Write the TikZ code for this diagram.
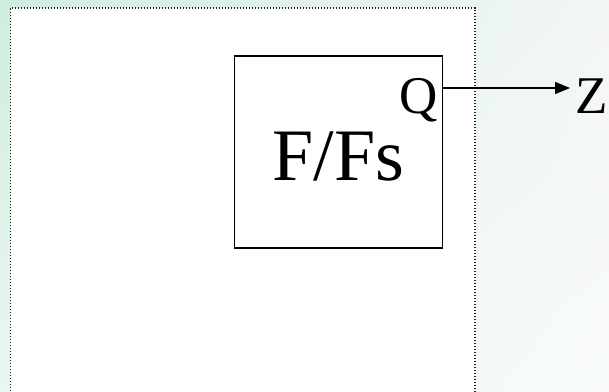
\documentclass[tikz,border=0pt]{standalone}
\usepackage{fontspec}
\setmainfont{Liberation Serif}
\usetikzlibrary{positioning, arrows.meta, shadings}
\definecolor{mintbg}{RGB}{208,237,222}
\definecolor{mintfade}{RGB}{234,246,240}
\definecolor{greybg}{RGB}{243,246,245}
\definecolor{paperbg}{RGB}{248,251,250}
\definecolor{dotgrey}{RGB}{35,35,35}

\begin{document}
\begin{tikzpicture}[x=1pt,y=-1pt,blockbox/.style={draw=black,line width=1.6pt,fill=white,minimum width=208pt,minimum height=192pt,inner sep=0pt},bigtext/.style={font=\fontsize{74}{80}\selectfont,inner sep=0pt},pintext/.style={font=\fontsize{53}{58}\selectfont,inner sep=0pt},frame/.style={draw=dotgrey,line width=1.5pt,dash pattern=on 1.5pt off 1.5pt,fill=white},sig/.style={line width=1.1pt,-{Triangle[length=15pt,width=12pt]}}]
\useasboundingbox (0,0) rectangle (609,391);
\clip (0,0) rectangle (609,391);
\shade[upper left=mintbg,upper right=greybg,lower left=mintfade,lower right=paperbg] (0,0) rectangle (609,391);
\draw[frame] (10.7,400) -- (10.7,8) -- (475,8) -- (475,400);
\node[blockbox] (ffs) at (338.6,152) {};
\node[bigtext, anchor=base] (ffslabel) at (338.6,180) {F/Fs};
\node[pintext, anchor=base east] (q) at (438,113) {Q};
\coordinate (qpin) at (ffs.east |- 0,88);
\node[pintext, anchor=base west, inner xsep=5pt] (z) at (570,113) {Z};
\draw[sig] (qpin) -- (z.west |- qpin);
\end{tikzpicture}
\end{document}
